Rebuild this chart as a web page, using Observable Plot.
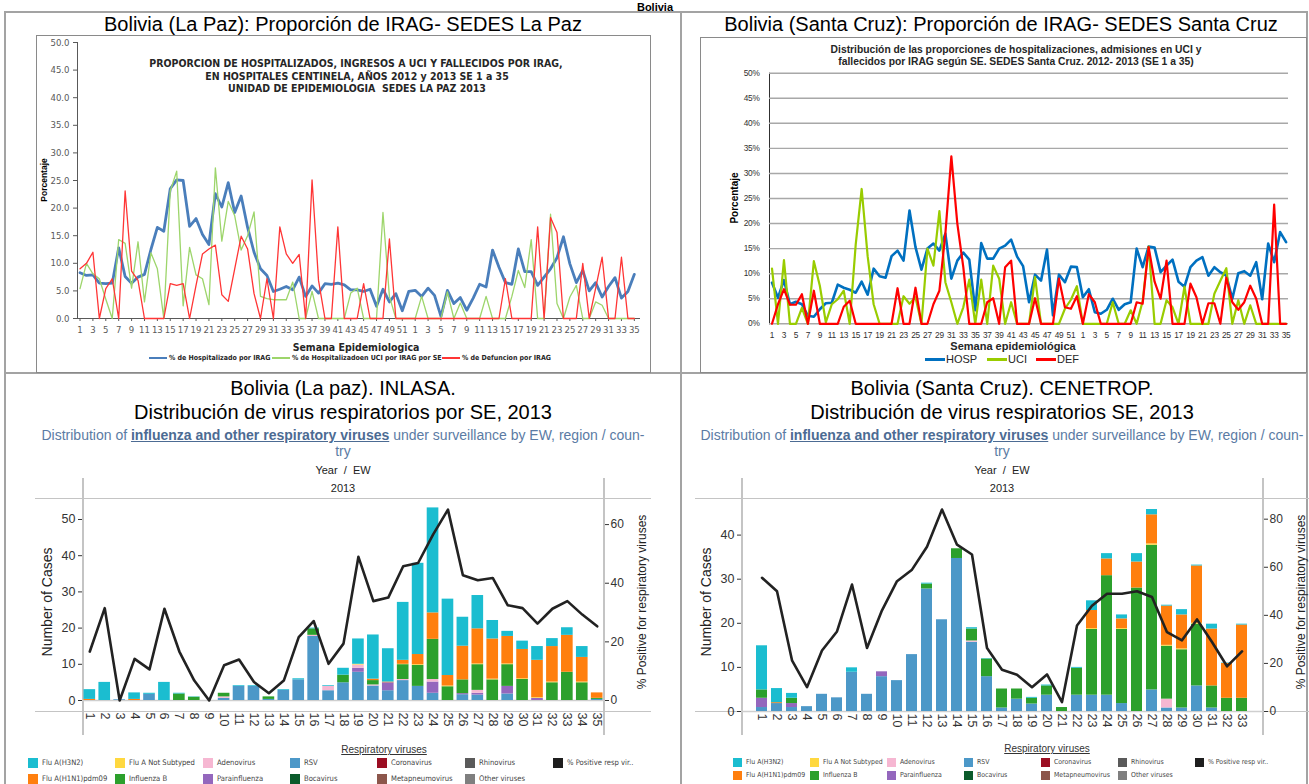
<!DOCTYPE html>
<html><head><meta charset="utf-8">
<script src="https://cdn.jsdelivr.net/npm/d3@7"></script>
<script src="https://cdn.jsdelivr.net/npm/@observablehq/plot@0.6"></script>
<style>
body{margin:0;background:#fff;}
#root{position:relative;width:1309px;height:784px;overflow:hidden;background:#fff;font-family:"Liberation Sans",Arial,sans-serif;color:#000;}
</style></head><body><div id="root"></div>
<script>
// ---------- DATA ----------
// week categories: 2012 weeks 1-52 then 2013 weeks 1-35
const weeks2012 = d3.range(1, 53);
const weeks2013 = d3.range(1, 36);
const weekLabels = [...weeks2012, ...weeks2013];

// La Paz (SEDES) percentages
const lpHosp = [8.3,7.8,7.9,6.4,6.3,6.4,12.8,7.6,6.4,7.5,8.0,12.5,16.5,15.8,23.5,25.1,25.0,16.7,18.1,15.2,13.4,22.6,20.2,24.6,19.2,22.2,16.5,12.0,9.0,7.8,4.9,5.3,5.8,5.2,7.5,4.0,5.9,4.6,6.3,6.2,6.4,6.1,5.2,5.2,4.9,5.3,2.2,5.3,3.0,4.5,1.4,4.9,
  5.1,4.0,5.5,4.2,0.4,5.1,2.7,3.8,1.5,3.7,6.2,5.7,12.4,9.3,6.5,6.2,12.6,8.5,8.5,6.0,7.5,9.0,11.0,14.8,9.9,6.5,8.7,5.0,6.5,3.9,5.8,7.4,3.7,4.9,8.0];
const lpUci = [5.4,10.0,8.1,7.2,3.5,0,14.3,13.6,5.5,13.9,3.0,11.9,9.0,0,23.1,26.7,2.3,12.9,7.9,7.2,2.5,27.3,14.0,21.2,18.6,12.4,15.0,19.3,4.0,3.6,3.4,3.4,3.4,6.6,0,0,4.9,0,0,0,0,0,4.6,5.5,0,0,0,19.2,4.0,0,0,0,
  0,4.0,0,0,0,4.8,0,2.8,0,0,0,4.0,0,0,0,4.0,8.7,5.6,14.3,0,0,18.9,2.7,0,3.9,6.0,0,0,3.0,2.4,0,0,0,0,0];
const lpDef = [9.0,10.0,12.0,0,5.4,7.2,0,23.1,8.6,6.9,0,0,0,0,6.3,6.0,6.3,0,6.0,11.7,12.6,13.3,4.3,3.1,9.0,14.9,12.6,4.5,0,7.2,0,16.6,11.7,10.0,11.6,0,25.1,6.9,0,0,16.6,0,0,0,6.3,0,0,0,14.4,0,0,0,
  0,0,0,0,0,0,0,0,0,0,0,0,0,0,7.2,0,0,0,0,16.6,0,18.3,15.6,0,0,0,10.0,0,5.5,11.1,0,0,11.1,0,0];

// Santa Cruz (SEDES) percentages
const scHosp = [8.2,5.2,8.7,3.9,4.4,3.9,1.6,1.4,2.9,4.1,4.2,7.8,7.2,6.8,6.2,8.4,5.8,11.0,9.5,9.2,13.5,14.6,12.6,22.6,15.3,10.8,15.0,16.0,14.6,18.0,9.0,12.6,14.2,12.8,2.7,16.1,13.0,13.0,15.0,15.6,16.8,13.4,11.5,4.3,9.8,8.6,14.8,1.7,9.8,8.3,11.4,11.3,
  5.3,6.9,2.3,2.0,2.8,5.0,2.8,3.9,4.3,15.0,11.3,15.4,15.2,10.3,11.6,12.8,8.4,7.4,11.3,12.6,13.3,9.6,11.3,10.3,9.6,5.0,10.1,10.5,9.6,12.3,4.9,16.0,12.3,18.3,16.3];
const scUci = [11.0,0,12.7,0,0,3.2,0,12.5,7.6,0.3,3.9,4.9,6.6,0,15.8,26.9,13.5,3.9,0,0,0,0,5.5,4.0,5.3,0,15.0,11.6,22.5,8.3,4.3,0,3.3,8.8,0,8.8,0,11.6,9.0,0,4.3,0,0,0,9.3,0,0,0,0,3.0,4.8,7.5,
  0,0,0,0,0,4.3,0,0,2.7,0,4.5,15.4,0,0,4.7,3.3,0,7.4,0,0,0,0,6.0,8.6,11.1,0,4.7,0,3.7,0,0,0,0,0,0];
const scDef = [0,3.9,6.9,3.8,3.8,5.9,0,6.6,0,0,0,0,3.4,4.6,0,0,0,0,0,0,0,7.1,0,0,7.2,0,0,3.9,6.6,18.0,33.4,20.0,11.3,0,0,0,4.3,5.1,0,11.3,12.6,0,0,0,5.1,0,0,0,9.0,3.3,3.0,5.5,
  0,5.9,4.3,0,0,0,0,0,0,4.3,4.0,15.3,8.4,5.0,12.6,0,0,0,8.0,5.3,0,4.1,4.1,0,9.2,4.3,2.8,4.3,7.6,5.0,0,0,23.8,0,0];

const lpYTicks = [0,5,10,15,20,25,30,35,40,45,50];
const scYTicks = [0,5,10,15,20,25,30,35,40,45,50];

// INLASA La Paz, weeks 1-35 of 2013 (cases)
const lpWeeks = d3.range(1, 36).map(String);
const lpRSV   = [0,0,0.2,0,1.7,0,0,0,0,0.6, 3.9,3.9,0.3,2.8,5.7,17.7,2.7,4.9,7.8,4.0, 2.7,5.5,3.9,2.0,0,1.6,1.5,0,1.8,0, 0,0,0,0,0.3];
const lpPara  = [0,0,0,0,0,0,0,0,0,0, 0,0,0,0,0,0,0,0,1.1,0, 2.2,0,0,3.1,0,0.3,0.5,0,2.1,0, 0.6,0,0,0,0];
const lpAdeno = [0,0,0,0,0,0,0,0,0,0.4, 0,0,0,0,0,0.3,1.2,0,0.9,0.3, 0,0.3,0,0.7,0,0,0.8,0,0,0, 0,0,0,0,0];
const lpInfB  = [0,0,0,0,0,0,1.8,0.9,0,1.0, 0,0,0.7,0,0,1.8,0,2.1,0,1.2, 0,4.1,5.8,11.1,3.8,3.8,7.1,5.7,6.0,5.8, 0,4.9,7.8,4.9,0.3];
const lpFluANS= [0,0,0,0,0,0,0,0,0,0, 0,0,0,0,0,0,0,0,0.2,0, 0,0.1,0.2,0,0.2,0,0.2,0.2,0.2,0.2, 0.2,0.2,0,0.2,0];
const lpH1N1  = [0.3,0,0,0.3,0,0,0,0,0,0, 0,0,0,0,0,0,0,0,0,0.4, 0.2,1.1,2.8,7.3,2.9,9.3,9.7,11.1,7.6,8.1, 10.3,9.8,10.2,6.8,1.5];
const lpH3N2  = [2.7,5,0,1.8,0.3,5,0.2,0.1,0,0, 0.2,0.2,0,0.2,0.3,0.2,0.2,1.9,7.0,12.2, 9.2,16.0,25.2,29.0,21.1,8.0,9.2,5.1,1.4,2.3, 3.8,2.2,2.1,3.0,0];
const lpPct   = [16.7,31.5,0,14.2,10.6,31.3,16.7,6.8,0,12.0, 14.0,6.3,2.5,6.8,21.6,27.1,12.5,19.4,49.0,33.9, 35.1,45.8,46.9,56.6,65.1,42.7,41.0,41.8,32.5,31.5, 26.2,31.3,33.9,29.3,25.3];

// CENETROP Santa Cruz, weeks 1-33 of 2013 (cases)
const scWeeks = d3.range(1, 34).map(String);
const scRSV   = [0.9,1.8,0.9,1.1,3.9,3.1,8.9,3.9,7.9,7.0, 12.9,27.8,20.8,34.7,15.7,7.9,0.8,2.8,1.7,3.7, 0,3.7,3.7,3.7,1.8,0,4.9,0.8,0.8,5.8, 0.8,0,0];
const scPara  = [2.1,0,0.9,0,0,0,0,0,1.1,0, 0,0,0,0,0,0,0,0,0,0, 0,0,0,0,0,0,0,0,0,0, 0,0,0];
const scAdeno = [0,0,0,0,0,0,0,0,0,0, 0,0,0,0,0.3,0,0,0,0,0, 0,0,0,0,0,0,0,2.0,0,0, 0,0,0];
const scInfB  = [1.9,0,1.2,0,0,0,0,0,0,0, 0,1.1,0,2.2,2.7,4.0,4.3,2.3,1.3,2.1, 0.9,6.1,14.9,27.1,16.8,28.0,32.8,12.0,13.2,14.0, 5.0,3.0,3.0];
const scFluANS= [0,0,0,0,0,0,0,0,0,0, 0,0,0,0,0,0,0,0,0,0, 0,0,0.2,0,0.2,0,0.3,0.2,0.2,0.2, 0,0,0];
const scH1N1  = [0,0.2,0,0,0,0,0,0,0,0, 0,0,0,0,0,0,0,0,0,0, 0,0,4.1,3.8,2.2,5.9,6.6,8.9,7.7,13.0, 12.9,7.9,16.6];
const scH3N2  = [10,3.2,1.1,0,0,0,1.0,0,0,0, 0,0.2,0,0,0.3,0.1,0,0,0.2,0.2, 0,0.2,2.2,1.2,0.9,1.9,1.2,0.2,1.2,0.2, 1.1,0.1,0.2];
const scPct   = [55.6,50.0,21.3,10.1,25.4,33.3,52.8,26.4,42.1,54.2, 59.0,68.5,84.0,69.4,65.3,26.4,17.4,15.3,10.1,15.4, 3.9,35.8,44.0,49.0,49.0,50.0,47.6,33.0,29.6,38.3, 28.9,18.8,25.0];

const virusNames  = ["Flu A(H3N2)","Flu A Not Subtyped","Adenovirus","RSV","Coronavirus","Rhinovirus","% Positive resp vir..","Flu A(H1N1)pdm09","Influenza B","Parainfluenza","Bocavirus","Metapneumovirus","Other viruses"];
const virusColors = ["#1bbdd0","#ffd83f","#f6b7d2","#4c98c8","#9b0d22","#5a5a5a","#1e1e1e","#ff7f0e","#2ca02c","#9467bd","#0b5b2b","#8c564b","#7f7f7f"];
const legendRow1 = ["Flu A(H3N2)","Flu A Not Subtyped","Adenovirus","RSV","Coronavirus","Rhinovirus","% Positive resp vir.."];
const legendRow2 = ["Flu A(H1N1)pdm09","Influenza B","Parainfluenza","Bocavirus","Metapneumovirus","Other viruses"];

// ---------- HELPERS ----------
const root = document.getElementById("root");
function text(s, x, y, css, align = "center", rot = 0) {
  const d = document.createElement("div");
  d.innerHTML = s;
  d.style.cssText = "position:absolute;white-space:nowrap;line-height:1;" + css;
  d.style.left = x + "px"; d.style.top = y + "px";
  const tx = align === "center" ? "-50%" : align === "right" ? "-100%" : "0";
  d.style.transform = `translate(${tx},-50%)` + (rot ? ` rotate(${rot}deg)` : "");
  root.appendChild(d); return d;
}
function rect(x, y, w, h, css) {
  const d = document.createElement("div");
  d.style.cssText = `position:absolute;left:${x}px;top:${y}px;width:${w}px;height:${h}px;box-sizing:border-box;` + css;
  root.appendChild(d); return d;
}
function addPlot(p, x, y, w, h) {
  const wrap = document.createElement("div");
  wrap.style.cssText = `position:absolute;left:${x}px;top:${y}px;width:${w}px;height:${h}px;`;
  wrap.appendChild(p); root.appendChild(wrap);
}
const colorOf = Object.fromEntries(virusNames.map((n, i) => [n, virusColors[i]]));

// ---------- FRAME ----------
const bc = "#a3a3a3";
rect(5, 11, 1303, 2, `background:${bc}`);
rect(5, 372, 1303, 2, `background:${bc}`);
rect(4, 11, 2, 780, `background:${bc}`);
rect(680, 11, 2, 780, `background:${bc}`);
rect(1306, 11, 2, 780, `background:${bc}`);
text("Bolivia", 655, 6.5, "font-weight:bold;font-size:11px;");

// ---------- TOP LEFT ----------
text("Bolivia (La Paz): Proporción de IRAG- SEDES La Paz", 343, 24, "font-size:20px;");
rect(36, 35, 615, 338, "border:1px solid #8a8a8a;background:#fff;");
const narrow = `"Liberation Sans Narrow","DejaVu Sans Condensed",Arial,sans-serif`;
const ttl = `font-family:${narrow};font-weight:bold;font-size:10.5px;color:#262626;`;
text("PROPORCION DE HOSPITALIZADOS, INGRESOS A UCI Y FALLECIDOS POR IRAG,", 356, 63, ttl);
text("EN HOSPITALES CENTINELA, AÑOS 2012 y 2013 SE 1 a 35", 357, 75.5, ttl);
text("UNIDAD DE EPIDEMIOLOGIA &nbsp;SEDES LA PAZ 2013", 357, 88, ttl);
text("Porcentaje", 44, 180, "font-weight:bold;font-size:8.5px;", "center", -90);
text("Semana Epidemiologica", 356, 347, `font-family:${narrow};font-weight:bold;font-size:10.5px;color:#262626;`);

const idx = weekLabels.map((w, i) => i);
const evenIdx = idx.filter(i => i % 2 === 0);
const lpRows = idx.map(i => ({i, hosp: lpHosp[i], uci: lpUci[i], def: lpDef[i]}));
const tl = Plot.plot({
  width: 614, height: 338,
  marginLeft: 41, marginRight: 11, marginTop: 7, marginBottom: 55,
  style: {background: "transparent", overflow: "visible", fontFamily: narrow, fontSize: "9.5px", color: "#595959"},
  x: {domain: [-0.39, 86.8], ticks: evenIdx, tickFormat: i => weekLabels[i], tickSize: 3, tickPadding: 5, line: true, label: null},
  y: {domain: [0, 50], ticks: lpYTicks, tickFormat: d3.format(".1f"), tickSize: 4, tickPadding: 4, line: true, label: null},
  marks: [
    Plot.line(lpRows, {x: "i", y: "hosp", stroke: "#4a7ebb", strokeWidth: 2.8}),
    Plot.line(lpRows, {x: "i", y: "uci", stroke: "#9dd56b", strokeWidth: 1.3}),
    Plot.line(lpRows, {x: "i", y: "def", stroke: "#ff3535", strokeWidth: 1.3})
  ]
});
addPlot(tl, 36, 35, 614, 338);
[["% de Hospitalizado por IRAG", "#4a7ebb", 149, 2.6], ["% de Hospitalizadoen UCI por IRAG por SE", "#9dd56b", 272, 1.3], ["% de Defuncion por IRAG", "#ff3535", 442, 1.3]].forEach(([n, c, x, w]) => {
  rect(x, 358 - w / 2, 18, w, `background:${c}`);
  text(n, x + 20, 358, `font-family:${narrow};font-weight:bold;font-size:7px;color:#262626;`, "left");
});

// ---------- TOP RIGHT ----------
text("Bolivia (Santa Cruz): Proporción de IRAG- SEDES Santa Cruz", 1001, 24, "font-size:20px;");
rect(700, 37, 607, 336, "border:1px solid #8a8a8a;background:#fff;");
text("Distribución de las proporciones de hospitalizaciones, admisiones en UCI y", 1016, 50, "font-weight:bold;font-size:10.3px;color:#262626;");
text("fallecidos por IRAG según SE. SEDES Santa Cruz. 2012- 2013 (SE 1 a 35)", 1016, 62, "font-weight:bold;font-size:10.3px;color:#262626;");
text("Porcentaje", 735, 198, "font-weight:bold;font-size:10px;", "center", -90);
const scRows = idx.map(i => ({i, hosp: scHosp[i], uci: scUci[i], def: scDef[i]}));
const tr = Plot.plot({
  width: 606, height: 335,
  marginLeft: 69, marginRight: 18, marginTop: 35.7, marginBottom: 48.7,
  style: {background: "transparent", overflow: "visible", fontFamily: "Liberation Sans, Arial, sans-serif", fontSize: "8.3px", letterSpacing: "-0.3px", color: "#303030"},
  x: {domain: [-0.42, 86.4], ticks: evenIdx, tickFormat: i => weekLabels[i], tickSize: 0, tickPadding: 8, label: null},
  y: {domain: [0, 50], ticks: scYTicks, tickFormat: d => d + "%", tickSize: 0, tickPadding: 10, line: true, label: null},
  marks: [
    Plot.ruleY(scYTicks, {stroke: "#a8a8a8", strokeWidth: 1.4}),
    Plot.line(scRows, {x: "i", y: "hosp", stroke: "#0070c0", strokeWidth: 2.6}),
    Plot.line(scRows, {x: "i", y: "uci", stroke: "#99cc00", strokeWidth: 2.2}),
    Plot.line(scRows, {x: "i", y: "def", stroke: "#ff0000", strokeWidth: 2.2})
  ]
});
addPlot(tr, 700, 37, 606, 335);
text("Semana epidemiológica", 1013, 346, "font-weight:bold;font-size:11px;color:#262626;");
[["HOSP", "#0070c0", 925], ["UCI", "#99cc00", 987], ["DEF", "#ff0000", 1036]].forEach(([n, c, x]) => {
  rect(x, 357.5, 20, 3, `background:${c}`);
  text(n, x + 21, 359, "font-size:11px;color:#262626;", "left");
});

// ---------- BOTTOM PANELS ----------
const subCss = "font-size:14px;color:#5b7ba4;";
const subHtml = 'Distribution of <span style="font-weight:bold;text-decoration:underline;color:#4c6b93;">influenza and other respiratory viruses</span> under surveillance by EW, region / coun-';
const lpSeries = [["RSV", lpRSV], ["Parainfluenza", lpPara], ["Adenovirus", lpAdeno], ["Influenza B", lpInfB], ["Flu A Not Subtyped", lpFluANS], ["Flu A(H1N1)pdm09", lpH1N1], ["Flu A(H3N2)", lpH3N2]];
const scSeries = [["RSV", scRSV], ["Parainfluenza", scPara], ["Adenovirus", scAdeno], ["Influenza B", scInfB], ["Flu A Not Subtyped", scFluANS], ["Flu A(H1N1)pdm09", scH1N1], ["Flu A(H3N2)", scH3N2]];

function barPanel(cfg) {
  const rows = [];
  cfg.weeks.forEach((w, i) => cfg.series.forEach(([v, arr]) => { if (arr[i] > 0) rows.push({week: w, virus: v, cases: arr[i]}); }));
  const pctRows = cfg.weeks.map((w, i) => ({week: w, pct: cfg.pct[i]}));
  const xOpt = {type: "band", domain: cfg.weeks, paddingInner: cfg.pi, paddingOuter: cfg.po};
  const common = {width: cfg.w, height: cfg.h, marginLeft: cfg.ml, marginRight: cfg.mr, marginTop: cfg.mt, marginBottom: cfg.mb};
  const bars = Plot.plot({
    ...common,
    style: {background: "transparent", overflow: "visible", fontFamily: "Liberation Sans, Arial, sans-serif", fontSize: cfg.fs, color: "#333"},
    x: {...xOpt, tickSize: 0, tickPadding: cfg.xtp, tickRotate: 90, label: null},
    y: {domain: [0, cfg.ymax], ticks: cfg.yticks, tickSize: 4, tickPadding: 3, label: null},
    color: {domain: virusNames, range: virusColors},
    marks: [
      Plot.ruleY([0], {stroke: "#cfcfcf", strokeWidth: 1.5}),
      Plot.barY(rows, {x: "week", y: "cases", fill: "virus"})
    ]
  });
  addPlot(bars, cfg.x, cfg.y, cfg.w, cfg.h);
  const line = Plot.plot({
    ...common,
    style: {background: "transparent", overflow: "visible", fontFamily: "Liberation Sans, Arial, sans-serif", fontSize: cfg.fs2, color: "#333"},
    x: {...xOpt, axis: null},
    y: {domain: [0, cfg.y2max], ticks: cfg.y2ticks, axis: "right", tickSize: 4, tickPadding: 2, label: null},
    marks: [Plot.line(pctRows, {x: "week", y: "pct", stroke: "#222", strokeWidth: 2.6})]
  });
  addPlot(line, cfg.x, cfg.y, cfg.w, cfg.h);
}

function legendBlock(cols, r1, r2, sw, fs, titleX, titleY) {
  text("Respiratory viruses", titleX, titleY, "font-size:10px;text-decoration:underline;color:#333;");
  legendRow1.forEach((n, k) => {
    rect(cols[k], r1 - sw / 2, sw, sw, `background:${colorOf[n]}`);
    text(n, cols[k] + sw + 4, r1, `font-family:${narrow};font-size:${fs}px;color:#444;`, "left");
  });
  legendRow2.forEach((n, k) => {
    rect(cols[k], r2 - sw / 2, sw, sw, `background:${colorOf[n]}`);
    text(n, cols[k] + sw + 4, r2, `font-family:${narrow};font-size:${fs}px;color:#444;`, "left");
  });
}

// La Paz INLASA
text("Bolivia (La paz). INLASA.", 343, 388, "font-size:20px;");
text("Distribución de virus respiratorios por SE, 2013", 343, 412, "font-size:20px;");
text(subHtml, 343, 435, subCss);
text("try", 343, 451, subCss);
text("Year &nbsp;/ &nbsp;EW", 343, 470, "font-size:11px;color:#222;");
text("2013", 343, 488, "font-size:11px;color:#222;");
rect(82, 478, 1.5, 257, "background:#c4c4c4");
rect(603, 478, 1.5, 257, "background:#c4c4c4");
rect(35, 497.5, 616, 1.5, "background:#c4c4c4");
rect(35, 710.5, 616, 1.5, "background:#c4c4c4");
text("Number of Cases", 47, 602, "font-size:14px;color:#222;", "center", -90);
text("% Positive for respiratory viruses", 642, 602, "font-size:12px;color:#222;", "center", -90);
barPanel({weeks: lpWeeks, series: lpSeries, pct: lpPct, x: 0, y: 478, w: 681, h: 257,
  ml: 82, mr: 77, mt: 20, mb: 35, pi: 0.22, po: 0.1, ymax: 55.8, yticks: [0,10,20,30,40,50],
  y2max: 68.9, y2ticks: [0,20,40,60], fs: "12.5px", fs2: "12px", xtp: 12});
legendBlock([28, 115, 203, 290, 377, 465, 553], 763, 779, 10, 7.6, 384, 750);

// Santa Cruz CENETROP
text("Bolivia (Santa Cruz). CENETROP.", 1002, 388, "font-size:20px;");
text("Distribución de virus respiratorios SE, 2013", 1002, 412, "font-size:20px;");
text(subHtml, 1002, 435, subCss);
text("try", 1002, 451, subCss);
text("Year &nbsp;/ &nbsp;EW", 1002, 470, "font-size:11px;color:#222;");
text("2013", 1002, 488, "font-size:11px;color:#222;");
rect(741, 478, 1.5, 257, "background:#c4c4c4");
rect(1262, 478, 1.5, 257, "background:#c4c4c4");
rect(695, 497.5, 614, 1.5, "background:#c4c4c4");
rect(695, 710.5, 614, 1.5, "background:#c4c4c4");
text("Number of Cases", 706, 602, "font-size:14px;color:#222;", "center", -90);
text("% Positive for respiratory viruses", 1301, 602, "font-size:12px;color:#222;", "center", -90);
barPanel({weeks: scWeeks, series: scSeries, pct: scPct, x: 690, y: 478, w: 619, h: 280,
  ml: 51, mr: 46, mt: 20, mb: 47, pi: 0.25, po: 0.12, ymax: 48.3, yticks: [0,10,20,30,40],
  y2max: 88.6, y2ticks: [0,20,40,60,80], fs: "12.5px", fs2: "12px", xtp: 2});
legendBlock([733, 810, 887, 964, 1041, 1118, 1195], 762, 775, 9, 6.9, 1047, 749);
</script></body></html>
